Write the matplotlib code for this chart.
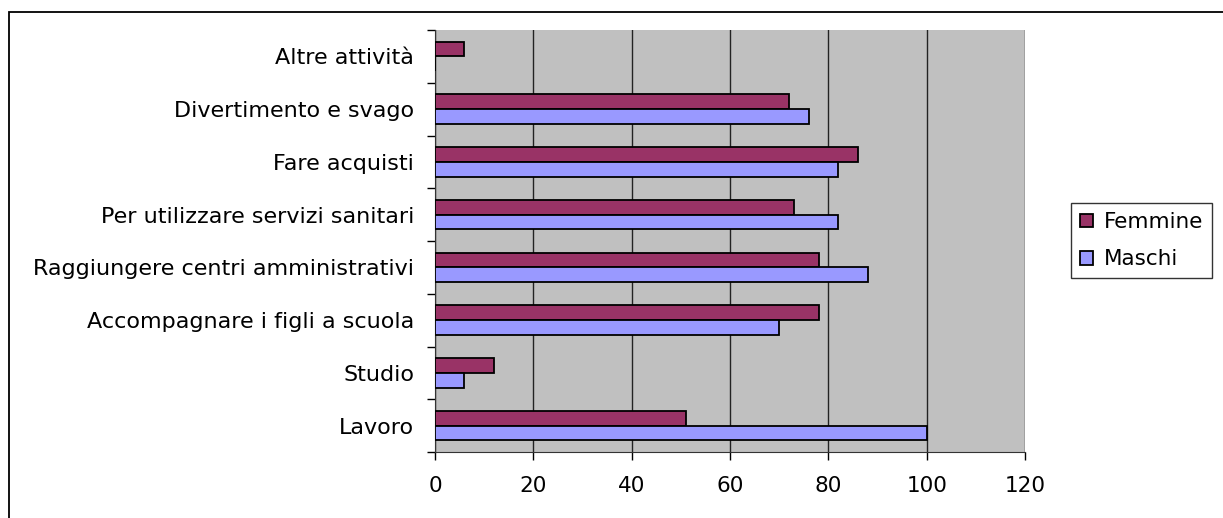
import numpy as np
import matplotlib.pyplot as plt
from matplotlib.patches import Rectangle

plt.rcParams['font.family'] = ['DejaVu Sans']

# categories listed bottom to top
categories = [
    "Lavoro",
    "Studio",
    "Accompagnare i figli a scuola",
    "Raggiungere centri amministrativi",
    "Per utilizzare servizi sanitari",
    "Fare acquisti",
    "Divertimento e svago",
    "Altre attività",
]
femmine = [51, 12, 78, 78, 73, 86, 72, 6]
maschi = [100, 6, 70, 88, 82, 82, 76, 0]
xticks = [0, 20, 40, 60, 80, 100, 120]

fig = plt.figure(figsize=(12.23, 5.18), dpi=100)
ax = fig.add_axes([435/1223, 1 - 452/518, 590/1223, 422/518])

# outer chart border (only top/left visible in the crop)
fig.patches.append(Rectangle((9/1223, -0.1), 1.2, 1 - 12/518 + 0.1,
                             transform=fig.transFigure, fill=False,
                             edgecolor='black', linewidth=1.3))

ax.set_facecolor('#C0C0C0')
y = np.arange(len(categories))
h = 0.28
ax.barh(y + h/2, femmine, height=h, color='#993366', edgecolor='black',
        linewidth=1.3, label='Femmine', zorder=3)
ax.barh(y - h/2, maschi, height=h, color='#9999FF', edgecolor='black',
        linewidth=1.3, label='Maschi', zorder=3)

ax.set_xlim(0, 120)
ax.set_ylim(-0.5, len(categories) - 0.5)
ax.set_xticks(xticks)
ax.set_xticklabels([str(t) for t in xticks], fontsize=15.5)
ax.set_yticks(np.arange(len(categories) + 1) - 0.5, minor=False)
ax.set_yticklabels([])
ax.set_yticks(y, minor=True)
ax.set_yticklabels(categories, minor=True, fontsize=16)
ax.tick_params(axis='y', which='minor', length=0, pad=15)
ax.tick_params(axis='y', which='major', length=6, width=1, direction='out')
ax.tick_params(axis='x', length=6, width=1, direction='out', pad=11)

ax.grid(axis='x', color='#222222', linewidth=1, zorder=1)
ax.set_axisbelow(True)
for s in ['top', 'right']:
    ax.spines[s].set_visible(False)
ax.spines['left'].set_color('#333333')
ax.spines['bottom'].set_color('#333333')

leg = fig.legend(loc='upper left', bbox_to_anchor=(1071/1223, 1 - 203/518),
                 fontsize=15.5, frameon=True, fancybox=False, edgecolor='black',
                 handlelength=0.6, handleheight=0.6, handletextpad=0.5,
                 borderpad=0.42, labelspacing=0.8, borderaxespad=0)
leg.get_frame().set_linewidth(1)

fig.savefig('out.png', dpi=100)
